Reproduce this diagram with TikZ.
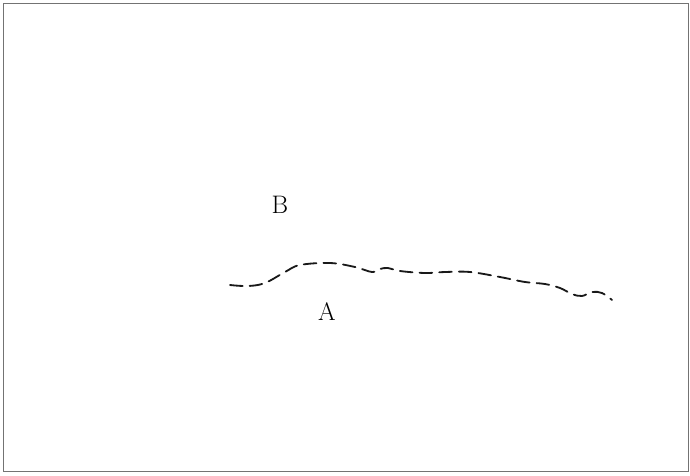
\documentclass[tikz,border=0pt]{standalone}
\usepackage{tikz}
\usetikzlibrary{positioning}
\tikzset{
    frame/.style={draw=black!55, line width=0.5pt},
    lbl/.style={font=\fontsize{18}{20}\selectfont, inner sep=1pt},
    bound/.style={dash pattern=on 9pt off 5pt, line width=1.3pt, draw=black!90,
                  line cap=round}
}

\begin{document}
\begin{tikzpicture}[x=0.025cm, y=-0.025cm]
\useasboundingbox (0,0) rectangle (690,475);
\draw[frame] (3,3) rectangle (688,471);

\node[lbl] at (280,205) (regB) {B};
\node[lbl] at (327,312) (regA) {A};

% boundary between the two regions
\draw[bound] plot[smooth, tension=0.6] coordinates {
    (230,285) (248,286) (265,283) (285,272) (300,265) (330,263)
    (355,267) (372,272) (380,269) (388,268) (400,271) (425,273)
    (445,272) (470,272) (500,277) (525,282) (545,284) (560,288)
    (572,294) (582,296) (592,292) (602,293) (612,300)};
\end{tikzpicture}
\end{document}
